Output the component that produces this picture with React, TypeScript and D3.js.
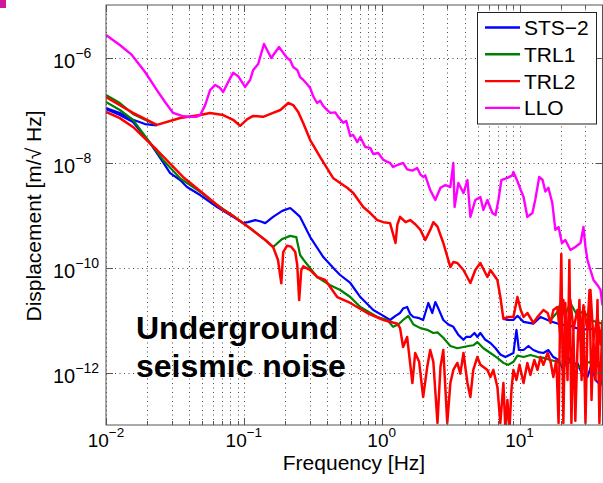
import React from "react";
import * as d3 from "d3";

type Pt = [number, number];

// Frequency [Hz], displacement [m/sqrt(Hz)]
const llo: Pt[] = [
  [0.01, 2.68e-6], [0.0126, 1.73e-6], [0.0154, 1.12e-6], [0.0192, 5.3e-7], [0.0234, 2.4e-7],
  [0.0268, 1.42e-7], [0.0307, 8.8e-8], [0.0356, 7.7e-8], [0.0407, 7.4e-8], [0.0451, 7.4e-8],
  [0.0482, 8.0e-8], [0.0524, 1.24e-7], [0.0569, 2.4e-7], [0.062, 3.0e-7], [0.0673, 2.62e-7],
  [0.0708, 2.2e-7], [0.0769, 3.4e-7], [0.0836, 5.1e-7], [0.091, 4.4e-7], [0.102, 2.75e-7],
  [0.111, 3.73e-7], [0.117, 5.8e-7], [0.127, 7.5e-7], [0.14, 1.81e-6], [0.158, 9.8e-7],
  [0.18, 1.58e-6], [0.206, 9.8e-7], [0.217, 8.9e-7], [0.228, 6.6e-7], [0.244, 5.8e-7],
  [0.256, 4.25e-7], [0.27, 3.73e-7], [0.288, 3.1e-7], [0.303, 2.62e-7], [0.318, 1.85e-7],
  [0.34, 1.36e-7], [0.358, 1.5e-7], [0.377, 1.19e-7], [0.396, 1.04e-7], [0.424, 8.8e-8],
  [0.46, 9.0e-8], [0.484, 7.4e-8], [0.526, 5.7e-8], [0.553, 6.2e-8], [0.592, 3.2e-8],
  [0.622, 3.34e-8], [0.665, 2.45e-8], [0.7, 3.06e-8], [0.76, 1.97e-8], [0.826, 1.9e-8],
  [0.869, 1.45e-8], [0.944, 1.52e-8], [1.03, 1.12e-8], [1.1, 1.03e-8], [1.15, 9.8e-9],
  [1.21, 8.2e-9], [1.3, 8.95e-9], [1.43, 9.8e-9], [1.53, 7.4e-9], [1.67, 7.0e-9],
  [1.81, 7.85e-9], [1.91, 5.9e-9], [2.0, 5.3e-9], [2.07, 5.7e-9], [2.25, 2.99e-9],
  [2.45, 1.93e-9], [2.67, 3.3e-9], [2.9, 3.73e-9], [3.15, 3.4e-9], [3.31, 9.8e-9],
  [3.38, 1.42e-9], [3.6, 4.07e-9], [3.92, 2.62e-9], [4.19, 4.64e-9], [4.4, 9.2e-10],
  [4.78, 1.93e-9], [5.2, 2.2e-9], [5.47, 1.25e-9], [5.85, 1.93e-9], [6.35, 1.09e-9],
  [6.7, 1.0e-9], [7.03, 1.93e-9], [7.39, 4.64e-9], [8.17, 5.1e-9], [8.87, 5.7e-9],
  [9.03, 6.6e-9], [9.66, 4.4e-9], [10.2, 2.99e-9], [10.7, 2.2e-9], [11.4, 9.2e-10],
  [12.4, 1.09e-9], [13.0, 1.93e-9], [13.9, 5.3e-9], [14.7, 4.64e-9], [15.4, 2.8e-9],
  [16.2, 3.3e-9], [17.3, 1.69e-9], [18.2, 5.2e-10], [19.2, 5.9e-10], [20.3, 2.93e-10],
  [21.5, 3.34e-10], [23.4, 2.15e-10], [25.4, 2.46e-10], [27.7, 2.93e-10], [29.1, 5.9e-10],
  [30.1, 2.46e-10], [31.1, 1.39e-10], [32.7, 8.95e-11], [34.4, 5.8e-11], [36.8, 4.6e-11],
  [38.7, 3.73e-11], [40, 1.9e-11],
];

// TRL2, second (upper) channel
const trl2b: Pt[] = [
  [0.01, 1.77e-7], [0.0157, 8.8e-8], [0.0234, 5.2e-8], [0.0345, 7.05e-8], [0.0482, 8.0e-8],
  [0.0569, 8.8e-8], [0.0708, 8.0e-8], [0.0836, 6.5e-8], [0.094, 5.0e-8], [0.106, 6.7e-8],
  [0.117, 7.7e-8], [0.138, 7.4e-8], [0.163, 8.8e-8], [0.184, 1.0e-7], [0.21, 1.36e-7],
  [0.228, 1.24e-7], [0.248, 9.2e-8], [0.27, 5.6e-8], [0.303, 2.68e-8], [0.358, 1.27e-8],
  [0.446, 5.0e-9], [0.5, 4.07e-9], [0.562, 3.3e-9], [0.622, 2.62e-9], [0.676, 1.93e-9],
  [0.735, 1.42e-9], [0.826, 1.09e-9], [0.929, 8.0e-10], [1.03, 7.3e-10], [1.15, 7.0e-10],
  [1.26, 2.93e-10], [1.3, 6.6e-10], [1.36, 9.2e-10], [1.49, 7.3e-10], [1.61, 8.0e-10],
  [1.76, 6.6e-10], [1.91, 5.2e-10], [2.07, 3.34e-10], [2.25, 5.2e-10], [2.37, 7.3e-10],
  [2.54, 6.0e-10], [2.8, 2.93e-10], [3.15, 1.02e-10], [3.31, 1.27e-10], [3.54, 1.22e-10],
  [3.92, 8.95e-11], [4.4, 5.07e-11], [4.78, 8.95e-11], [5.2, 1.22e-10], [5.85, 6.6e-11],
  [6.15, 8.95e-11], [6.91, 5.8e-11], [7.26, 2.74e-11], [7.64, 1.05e-11], [8.3, 1.14e-11],
  [9.03, 1.14e-11], [9.66, 2.74e-11], [10.2, 1.55e-11], [10.7, 1.14e-11], [11.4, 1.36e-11],
  [12.6, 8.8e-12], [13.5, 1.14e-11], [14.9, 1.55e-11], [16.0, 1.36e-11], [16.8, 8.8e-12],
  [17.6, 1.55e-11], [18.8, 1.77e-11], [19.8, 4.75e-12], [20.8, 2.4e-11], [22.3, 4.2e-12],
  [23.4, 2.4e-11], [24.6, 6.5e-12], [26.3, 1.55e-11], [27.7, 4.2e-12], [29.1, 1.9e-11],
  [31.1, 6.5e-12], [32.7, 3.73e-11], [34.4, 4.2e-12], [36.8, 1.2e-11], [38.7, 3.4e-12],
  [40, 1.0e-11],
];

// STS-2 second (upper) channel: visible only where it leaves the TRL2 upper trace
const sts2bLow: Pt[] = [
  [0.01, 1.09e-7], [0.0126, 8.8e-8], [0.0157, 6.5e-8], [0.0192, 5.4e-8], [0.0234, 5.1e-8],
];
const sts2bHigh: Pt[] = [
  [7.64, 1.05e-11], [8.3, 1.0e-11], [9.03, 1.0e-11], [9.66, 1.2e-11], [10.7, 9.2e-12],
  [12.6, 8.5e-12], [14.2, 1.14e-11], [16.8, 9.5e-12], [19.8, 8.2e-12], [23.4, 7.8e-12],
  [27.7, 6.5e-12], [32.7, 6.8e-12], [40, 6.0e-12],
];

// TRL1 second (upper) channel
const trl1bLow: Pt[] = [
  [0.01, 1.93e-7], [0.0126, 1.36e-7], [0.0157, 8.4e-8], [0.0192, 6.5e-8], [0.0234, 5.2e-8],
];
const trl1bHigh: Pt[] = [
  [16.8, 1.0e-11], [18.8, 1.4e-11], [19.8, 2.11e-11], [21.5, 1.3e-11], [23.4, 2.11e-11],
  [26.3, 1.2e-11], [29.1, 1.5e-11], [32.7, 1.0e-11], [36.8, 9.0e-12], [40, 8.5e-12],
];

const sts2: Pt[] = [
  [0.01, 1.04e-7], [0.0126, 8.0e-8], [0.0157, 5.9e-8], [0.0209, 2.35e-8], [0.0259, 1.02e-8],
  [0.0292, 6.3e-9], [0.0345, 4.64e-9], [0.0387, 3.41e-9], [0.0482, 2.4e-9], [0.064, 1.42e-9],
  [0.0836, 9.2e-10], [0.0989, 7.0e-10], [0.107, 7.3e-10], [0.121, 8.0e-10], [0.131, 7.6e-10],
  [0.143, 7.0e-10], [0.163, 9.2e-10], [0.19, 1.2e-9], [0.217, 1.36e-9], [0.236, 1.12e-9],
  [0.256, 9.2e-10], [0.303, 3.8e-10], [0.377, 1.58e-10], [0.46, 8.95e-11], [0.5, 7.2e-11],
  [0.592, 5.07e-11], [0.7, 2.74e-11], [0.869, 1.55e-11], [1.03, 1.2e-11], [1.15, 1.0e-11],
  [1.26, 1.2e-11], [1.36, 1.36e-11], [1.43, 1.65e-11], [1.53, 1.77e-11], [1.61, 1.3e-11],
  [1.7, 1.14e-11], [1.84, 1.1e-11], [2.0, 1.0e-11], [2.18, 2.11e-11], [2.33, 1.36e-11],
  [2.45, 2.2e-11], [2.58, 1.65e-11], [2.8, 1.0e-11], [3.05, 8.2e-12], [3.31, 7.4e-12],
  [3.6, 5.2e-12], [3.92, 4.2e-12], [4.1, 4.75e-12], [4.4, 4.75e-12], [4.71, 5.65e-12],
  [4.94, 4.75e-12], [5.2, 5.65e-12], [5.65, 4.2e-12], [6.15, 3.65e-12], [6.7, 2.9e-12],
  [7.26, 2.2e-12], [7.9, 1.97e-12], [8.59, 2.2e-12], [9.03, 2.35e-12], [9.5, 6.5e-12],
  [9.9, 2.68e-12], [10.7, 2.68e-12], [11.6, 3.2e-12], [12.6, 2.68e-12], [13.7, 2.45e-12],
  [14.9, 2.35e-12], [16.2, 2.68e-12], [17.6, 1.97e-12], [19.2, 1.73e-12], [20.8, 1.12e-12],
  [22.3, 2.15e-12], [23.8, 1.4e-12], [26.3, 1.52e-12], [28.6, 9.0e-13], [31.1, 8.2e-13],
  [33.3, 1.4e-12], [35.6, 7.2e-13], [38.7, 5.8e-13], [40, 7.9e-13],
];

const trl1: Pt[] = [
  [0.01, 1.42e-7], [0.0126, 1.0e-7], [0.0157, 6.5e-8], [0.0209, 2.35e-8], [0.0259, 1.12e-8],
  [0.0345, 5.0e-9], [0.0482, 2.75e-9], [0.064, 1.55e-9], [0.0836, 9.6e-10], [0.111, 5.6e-10],
  [0.143, 3.34e-10], [0.163, 2.46e-10], [0.19, 3.5e-10], [0.217, 4.0e-10], [0.24, 3.8e-10],
  [0.256, 1.73e-10], [0.279, 1.27e-10], [0.34, 6.6e-11], [0.424, 4.6e-11], [0.5, 3.73e-11],
  [0.592, 2.74e-11], [0.7, 1.77e-11], [0.929, 1.14e-11], [1.1, 1.0e-11], [1.21, 7.4e-12],
  [1.32, 8.2e-12], [1.43, 1.0e-11], [1.56, 1.2e-11], [1.7, 8.2e-12], [1.91, 7.0e-12],
  [2.14, 6.5e-12], [2.37, 5.65e-12], [2.54, 5.8e-12], [2.8, 4.6e-12], [3.15, 3.2e-12],
  [3.54, 2.9e-12], [3.92, 3.06e-12], [4.26, 3.2e-12], [4.62, 3.3e-12], [4.94, 3.8e-12],
  [5.47, 2.9e-12], [6.15, 2.35e-12], [6.91, 1.9e-12], [7.64, 1.52e-12], [8.3, 1.4e-12],
  [9.03, 1.6e-12], [9.66, 2.1e-12], [10.7, 1.97e-12], [12.0, 2.15e-12], [13.5, 1.97e-12],
  [14.9, 1.9e-12], [16.8, 1.73e-12], [18.8, 1.6e-12], [20.8, 1.32e-12], [23.4, 1.6e-12],
  [26.3, 1.22e-12], [29.1, 1.45e-12], [32.7, 1.6e-12], [35.6, 1.22e-12], [40, 1.73e-12],
];

const trl2: Pt[] = [
  [0.01, 9.2e-8], [0.0126, 7.0e-8], [0.0157, 4.75e-8], [0.0234, 1.73e-8], [0.0362, 5.3e-9],
  [0.0482, 2.86e-9], [0.0708, 1.25e-9], [0.0836, 9.6e-10], [0.111, 5.6e-10], [0.143, 3.34e-10],
  [0.163, 2.46e-10], [0.177, 1.39e-10], [0.187, 5.0e-11], [0.193, 1.97e-10], [0.206, 2.6e-10],
  [0.22, 2.5e-10], [0.236, 1.97e-10], [0.244, 1.12e-10], [0.252, 2.4e-11], [0.261, 8.95e-11],
  [0.27, 1.05e-10], [0.303, 8.95e-11], [0.34, 6.6e-11], [0.389, 5.8e-11], [0.476, 2.74e-11],
  [0.592, 2.11e-11], [0.786, 1.36e-11], [1.03, 1.0e-11], [1.3, 8.5e-12], [1.36, 7.0e-12],
  [1.43, 3.06e-12], [1.53, 4.75e-12], [1.67, 6.3e-13], [1.75, 2.35e-12], [1.87, 1.6e-12],
  [2.0, 3.4e-13], [2.14, 1.27e-12], [2.25, 2.68e-12], [2.37, 1.6e-12], [2.54, 1.09e-13],
  [2.67, 1.27e-12], [2.8, 2.68e-12], [2.99, 1.09e-13], [3.15, 6.3e-13], [3.31, 1.12e-12],
  [3.54, 1.52e-12], [3.72, 9.5e-13], [3.92, 2.35e-12], [4.19, 6.3e-13], [4.4, 3.4e-13],
  [4.62, 1.12e-12], [4.94, 1.97e-12], [5.2, 1.4e-12], [5.47, 1.27e-12], [5.85, 1.12e-12],
  [6.15, 8.2e-13], [6.46, 1.12e-12], [6.91, 5.3e-13], [7.26, 1.09e-13], [7.64, 6.3e-13],
  [7.9, 8e-14], [8.17, 3.0e-13], [8.45, 8e-14], [8.74, 4.64e-13], [9.03, 1.12e-12],
  [9.5, 7.2e-13], [10.0, 1.4e-12], [10.7, 6.3e-13], [11.4, 1.52e-12], [12.0, 9.0e-13],
  [12.8, 1.73e-12], [13.5, 1.12e-12], [14.2, 1.97e-12], [14.9, 1.4e-12], [16.0, 2.35e-12],
  [16.8, 1.6e-12], [17.6, 8.2e-13], [18.5, 1.73e-12], [19.2, 1.09e-13], [19.8, 2.4e-11],
  [20.1, 1.8e-10], [20.8, 1.09e-13], [21.5, 2.11e-11], [22.3, 7.2e-13], [23.0, 1.39e-10],
  [23.8, 1.09e-13], [24.6, 6.5e-12], [25.4, 1.2e-13], [26.3, 2.68e-12], [27.2, 2.4e-11],
  [28.2, 7.2e-13], [29.1, 1.14e-11], [30.1, 1.09e-13], [31.1, 6.5e-12], [32.2, 3.73e-11],
  [33.3, 3.0e-13], [34.4, 4.2e-12], [35.6, 7.2e-13], [36.8, 2.4e-11], [38.0, 1.09e-13],
  [39.3, 2.68e-12], [40, 6.5e-12],
];

const xTicks = [0.01, 0.1, 1, 10];
const xTickExp = ["−2", "−1", "0", "1"];
const yTicks = [1e-6, 1e-8, 1e-10, 1e-12];
const yTickExp = ["−6", "−8", "−10", "−12"];
const legendNames = ["STS−2", "TRL1", "TRL2", "LLO"];
const legendColors = ["#0000ff", "#008000", "#ff0000", "#ff00ff"];

const W = 603, H = 483;
const L = 106, R = 602.5, T = 5, B = 425;
const FONT = "'Liberation Sans', Arial, Helvetica, sans-serif";

export default function App() {
  const x = d3.scaleLog().domain([0.01, 40]).range([L, R]);
  const y = d3.scaleLog().domain([1e-13, 1e-5]).range([B, T]);
  const line = d3.line<Pt>().x((d) => x(d[0])).y((d) => y(d[1]));

  const minor: number[] = [];
  for (let e = -2; e <= 1; e++) {
    for (let k = 1; k <= 9; k++) {
      const v = k * Math.pow(10, e);
      if (v >= 0.01 && v <= 40) minor.push(v);
    }
  }

  const series: { d: Pt[]; c: string; w: number }[] = [
    { d: sts2bLow, c: "#0000ff", w: 2.2 },
    { d: sts2bHigh, c: "#0000ff", w: 2.2 },
    { d: trl1bLow, c: "#008000", w: 2.2 },
    { d: trl1bHigh, c: "#008000", w: 2.2 },
    { d: sts2, c: "#0000ff", w: 2.2 },
    { d: trl1, c: "#008000", w: 2.2 },
    { d: trl2b, c: "#ff0000", w: 2.5 },
    { d: trl2, c: "#ff0000", w: 2.5 },
    { d: llo, c: "#ff00ff", w: 2.4 },
  ];

  return (
    <svg width={W} height={H} style={{ position: "absolute", left: 0, top: 0, background: "#fff" }} fontFamily={FONT}>
      <rect x={0} y={0} width={W} height={H} fill="#fff" />
      <rect x={0} y={0} width={6} height={8} fill="#d0189c" />
      <defs>
        <clipPath id="plotclip">
          <rect x={L} y={T} width={R - L} height={B - T} />
        </clipPath>
      </defs>
      {/* grid */}
      <g stroke="#000" strokeWidth={1} strokeDasharray="1 3.5" opacity={0.7}>
        {minor.map((v, i) => (
          <line key={"gx" + i} x1={Math.round(x(v)) + 0.5} x2={Math.round(x(v)) + 0.5} y1={T} y2={B} />
        ))}
        {yTicks.map((v, i) => (
          <line key={"gy" + i} x1={L} x2={R} y1={Math.round(y(v)) + 0.5} y2={Math.round(y(v)) + 0.5} />
        ))}
      </g>
      {/* data */}
      <g clipPath="url(#plotclip)" fill="none" strokeLinejoin="round">
        {series.map((s, i) => (
          <path key={i} d={line(s.d) || ""} stroke={s.c} strokeWidth={s.w} />
        ))}
      </g>
      {/* axes box and ticks */}
      <g stroke="#555" strokeWidth={1} fill="none">
        <rect x={L} y={T} width={R - L} height={B - T} />
        {minor.map((v, i) => {
          const len = xTicks.includes(v) ? 7 : 4;
          const px = Math.round(x(v)) + 0.5;
          return (
            <g key={"tx" + i}>
              <line x1={px} x2={px} y1={B} y2={B - len} />
              <line x1={px} x2={px} y1={T} y2={T + len} />
            </g>
          );
        })}
        {yTicks.map((v, i) => {
          const py = Math.round(y(v)) + 0.5;
          return (
            <g key={"ty" + i}>
              <line x1={L} x2={L + 7} y1={py} y2={py} />
              <line x1={R} x2={R - 7} y1={py} y2={py} />
            </g>
          );
        })}
      </g>
      {/* tick labels */}
      <g fill="#000">
        {xTicks.map((v, i) => (
          <text key={"xl" + i} x={x(v)} y={447} textAnchor="middle" fontSize={19}>
            10
            <tspan fontSize={13.5} dy={-10}>{xTickExp[i]}</tspan>
          </text>
        ))}
        {yTicks.map((v, i) => (
          <text key={"yl" + i} x={53} y={y(v) + 10} textAnchor="start" fontSize={20}>
            10
            <tspan fontSize={14} dy={-10}>{yTickExp[i]}</tspan>
          </text>
        ))}
      </g>
      {/* axis labels */}
      <text x={354} y={470} textAnchor="middle" fontSize={21} fill="#000">
        Frequency [Hz]
      </text>
      <text
        transform="translate(41,216) rotate(-90)"
        textAnchor="middle"
        fontSize={21}
        fill="#000"
      >
        Displacement [m/√ Hz]
      </text>
      {/* annotation */}
      <g fontWeight="bold" fontSize={32} fill="#000">
        <text x={136} y={339}>Underground</text>
        <text x={136} y={377}>seismic noise</text>
      </g>
      {/* legend */}
      <g>
        <rect x={477.5} y={12.5} width={119} height={111.5} fill="#fff" stroke="#222" strokeWidth={1} />
        {legendNames.map((n, i) => {
          const cy = 27.5 + i * 26.8;
          return (
            <g key={"lg" + i}>
              <line x1={485} x2={520} y1={cy} y2={cy} stroke={legendColors[i]} strokeWidth={2.4} />
              <text x={524} y={cy + 7.5} fontSize={21} fill="#000">
                {n}
              </text>
            </g>
          );
        })}
      </g>
    </svg>
  );
}
